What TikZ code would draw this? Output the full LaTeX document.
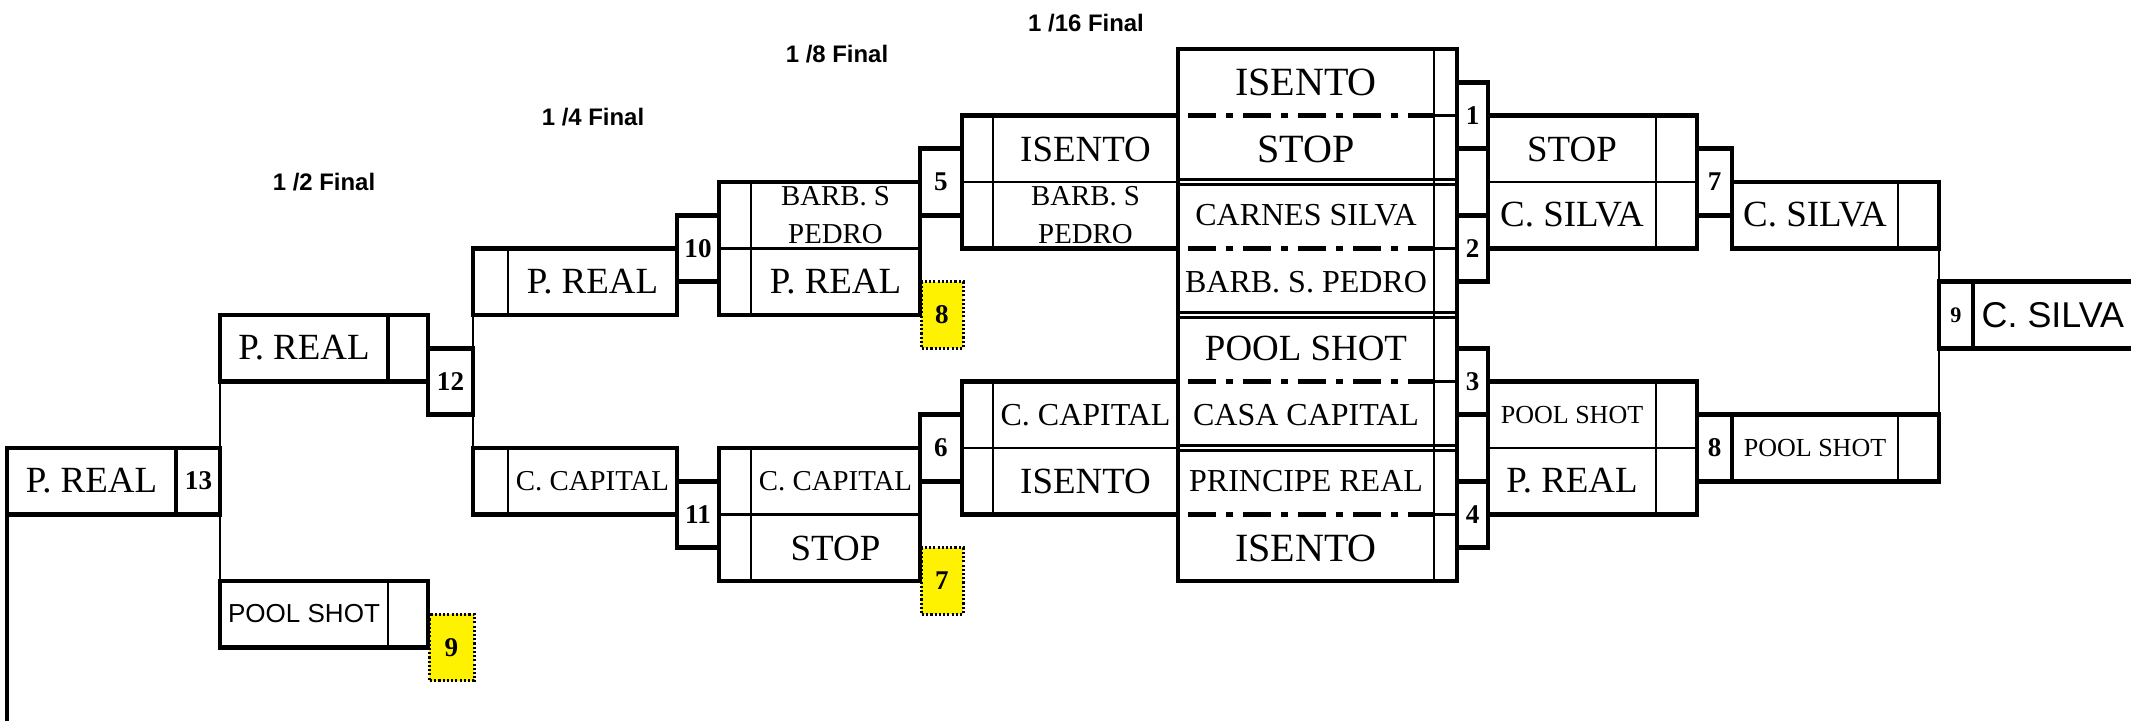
\documentclass[tikz,border=0pt]{standalone}
\usepackage{fontspec}
\setmainfont{Liberation Serif}
\newfontfamily\arialfont{Liberation Sans}

\begin{document}
\begin{tikzpicture}[x=0.01cm, y=-0.01cm,
  frame/.style={black, line width=1.4pt},
  divide/.style={black, line width=0.75pt},
  link/.style={black, line width=0.75pt},
  dashdot/.style={black, line width=1.7pt, dash pattern=on 0.28cm off 0.1cm on 0.07cm off 0.1cm},
  tag/.style={fill=yellow, draw=black, line width=0.85pt, dash pattern=on 0.6pt off 0.6pt},
  teamXL/.style={font=\fontsize{11.4}{13}\selectfont},
  teamL/.style={font=\fontsize{10.5}{12}\selectfont},
  teamM/.style={font=\fontsize{9.1}{11}\selectfont},
  teamS/.style={font=\fontsize{8.2}{10.8}\selectfont, align=center, inner sep=0pt},
  teamXS/.style={font=\fontsize{7.4}{9}\selectfont},
  poolsans/.style={font=\arialfont\fontsize{7.4}{9}\selectfont},
  winner/.style={font=\arialfont\fontsize{10.2}{12}\selectfont, anchor=west, inner sep=0pt},
  nr/.style={font=\bfseries\fontsize{7.7}{9}\selectfont, inner sep=0pt},
  stagettl/.style={font=\arialfont\bfseries\fontsize{6.8}{8}\selectfont}]
\useasboundingbox (0,0) rectangle (2131,721);
\node[stagettl] (t16) at (1086,23) {1 /16 Final};
\node[stagettl] (t8) at (837,54) {1 /8 Final};
\node[stagettl] (t4) at (593,117) {1 /4 Final};
\node[stagettl] (t2) at (324,182) {1 /2 Final};
\draw[tag] (429,614.25) rectangle (474,680.75);
\draw[tag] (921,281.75) rectangle (963,348.25);
\draw[tag] (921,547.75) rectangle (963,614.25);
\node[nr] (y9) at (451.5,647.5) {9};
\node[nr] (y8) at (942,315) {8};
\node[nr] (y7) at (942,581) {7};
\node[teamL] (finL) at (91.5,481) {P. REAL};
\node[nr] (n13) at (198.5,481) {13};
\node[teamL] (semiA) at (304,348) {P. REAL};
\node[poolsans] (semiB) at (304,614) {POOL SHOT};
\node[nr] (n12) at (450.5,381.5) {12};
\node[teamL] (qtrA) at (592.5,282) {P. REAL};
\node[teamS] (qtrB) at (592.5,481) {C. CAPITAL};
\node[nr] (n10) at (698,248.5) {10};
\node[nr] (n11) at (698,514.5) {11};
\node[teamS] (eigA) at (835.5,215) {BARB. S\\PEDRO};
\node[teamL] (eigB) at (835.5,282) {P. REAL};
\node[teamS] (eigC) at (835.5,481) {C. CAPITAL};
\node[teamL] (eigD) at (835.5,548) {STOP};
\node[nr] (n5) at (941,182) {5};
\node[nr] (n6) at (941,448) {6};
\node[teamL] (sixA) at (1085.5,149) {ISENTO};
\node[teamS] (sixB) at (1085.5,215) {BARB. S\\PEDRO};
\node[teamM] (sixC) at (1085.5,415) {C. CAPITAL};
\node[teamL] (sixD) at (1085.5,481) {ISENTO};
\node[teamXL] (drawA) at (1306,82) {ISENTO};
\node[teamXL] (drawB) at (1306,149) {STOP};
\node[teamM] (drawC) at (1306,215) {CARNES SILVA};
\node[teamM] (drawD) at (1306,282) {BARB. S. PEDRO};
\node[teamL] (drawE) at (1306,348) {POOL SHOT};
\node[teamM] (drawF) at (1306,415) {CASA CAPITAL};
\node[teamM] (drawG) at (1306,481) {PRINCIPE REAL};
\node[teamXL] (drawH) at (1306,548) {ISENTO};
\node[nr] (n1) at (1472.5,115.5) {1};
\node[nr] (n2) at (1472.5,248.5) {2};
\node[nr] (n3) at (1472.5,381.5) {3};
\node[nr] (n4) at (1472.5,514.5) {4};
\node[teamL] (rsA) at (1572,149) {STOP};
\node[teamL] (rsB) at (1572,215) {C. SILVA};
\node[teamXS] (rsC) at (1572,415) {POOL SHOT};
\node[teamL] (rsD) at (1572,481) {P. REAL};
\node[nr] (n7) at (1714.5,182) {7};
\node[nr] (n8) at (1714.5,448) {8};
\node[teamL] (rqA) at (1815,215) {C. SILVA};
\node[teamXS] (rqB) at (1815,448) {POOL SHOT};
\node[nr, font=\bfseries\fontsize{6.3}{8}\selectfont] (n9) at (1956,315) {9};
\node[winner] (champ) at (1981,315) {C. SILVA};
\coordinate (finLfoot) at (7,514.5);
\coordinate (pagefoot) at (7,721);
\coordinate (semiAfoot) at (220,381.5);
\coordinate (semiBtop) at (220,581);
\coordinate (qtrAfoot) at (473,315);
\coordinate (qtrBtop) at (473,448);
\coordinate (rqAfoot) at (1939,248.5);
\coordinate (rqBtop) at (1939,414.75);
\draw[frame] (finLfoot) -- (pagefoot);
\draw[link] (semiAfoot) -- (semiBtop);
\draw[link] (qtrAfoot) -- (qtrBtop);
\draw[link] (rqAfoot) -- (rqBtop);
\draw[frame] (7,448) rectangle (220,514.5);
\draw[frame] (176,448) -- (176,514.5);
\draw[frame] (220,315) rectangle (428,381.5);
\draw[frame] (388,315) -- (388,381.5);
\draw[frame] (220,581) rectangle (428,647.5);
\draw[divide] (388,581) -- (388,647.5);
\draw[frame] (428,348.25) rectangle (473,414.75);
\draw[frame] (473,248.5) rectangle (677,315);
\draw[divide] (508,248.5) -- (508,315);
\draw[frame] (473,448) rectangle (677,514.5);
\draw[divide] (508,448) -- (508,514.5);
\draw[frame] (677,215.25) rectangle (719,281.75);
\draw[frame] (677,481.25) rectangle (719,547.75);
\draw[frame] (719,182) rectangle (920,315);
\draw[divide] (719,248.5) -- (920,248.5);
\draw[divide] (751,182) -- (751,315);
\draw[frame] (719,448) rectangle (920,581);
\draw[divide] (719,514.5) -- (920,514.5);
\draw[divide] (751,448) -- (751,581);
\draw[frame] (920,148.75) rectangle (962,215.25);
\draw[frame] (920,414.75) rectangle (962,481.25);
\draw[frame] (962,115.5) rectangle (1178,248.5);
\draw[divide] (962,182) -- (1178,182);
\draw[divide] (993,115.5) -- (993,248.5);
\draw[frame] (962,381.5) rectangle (1178,514.5);
\draw[divide] (962,448) -- (1178,448);
\draw[divide] (993,381.5) -- (993,514.5);
\draw[frame] (1178,49) rectangle (1457,581);
\draw[divide] (1434,49) -- (1434,581);
\draw[dashdot] (1188,115.5) -- (1434,115.5);
\draw[dashdot] (1188,248.5) -- (1434,248.5);
\draw[dashdot] (1188,381.5) -- (1434,381.5);
\draw[dashdot] (1188,514.5) -- (1434,514.5);
\draw[divide] (1434,115.5) -- (1457,115.5);
\draw[divide] (1434,248.5) -- (1457,248.5);
\draw[divide] (1434,381.5) -- (1457,381.5);
\draw[divide] (1434,514.5) -- (1457,514.5);
\draw[divide] (1178,179.7) -- (1457,179.7);
\draw[divide] (1178,184.3) -- (1457,184.3);
\draw[divide] (1178,312.7) -- (1457,312.7);
\draw[divide] (1178,317.3) -- (1457,317.3);
\draw[divide] (1178,445.7) -- (1457,445.7);
\draw[divide] (1178,450.3) -- (1457,450.3);
\draw[frame] (1457,82.25) rectangle (1488,148.75);
\draw[frame] (1457,215.25) rectangle (1488,281.75);
\draw[frame] (1457,348.25) rectangle (1488,414.75);
\draw[frame] (1457,481.25) rectangle (1488,547.75);
\draw[frame] (1488,115.5) rectangle (1697,248.5);
\draw[divide] (1488,182) -- (1697,182);
\draw[divide] (1656,115.5) -- (1656,248.5);
\draw[frame] (1488,381.5) rectangle (1697,514.5);
\draw[divide] (1488,448) -- (1697,448);
\draw[divide] (1656,381.5) -- (1656,514.5);
\draw[frame] (1697,148.75) rectangle (1732,215.25);
\draw[frame] (1697,414.75) rectangle (1732,481.25);
\draw[frame] (1732,182) rectangle (1939,248.5);
\draw[divide] (1898,182) -- (1898,248.5);
\draw[frame] (1732,414.75) rectangle (1939,481.25);
\draw[divide] (1898,414.75) -- (1898,481.25);
\draw[frame] (2133,281.75) -- (1939,281.75) -- (1939,348.25) -- (2133,348.25);
\draw[frame] (1973,281.75) -- (1973,348.25);
\end{tikzpicture}
\end{document}
